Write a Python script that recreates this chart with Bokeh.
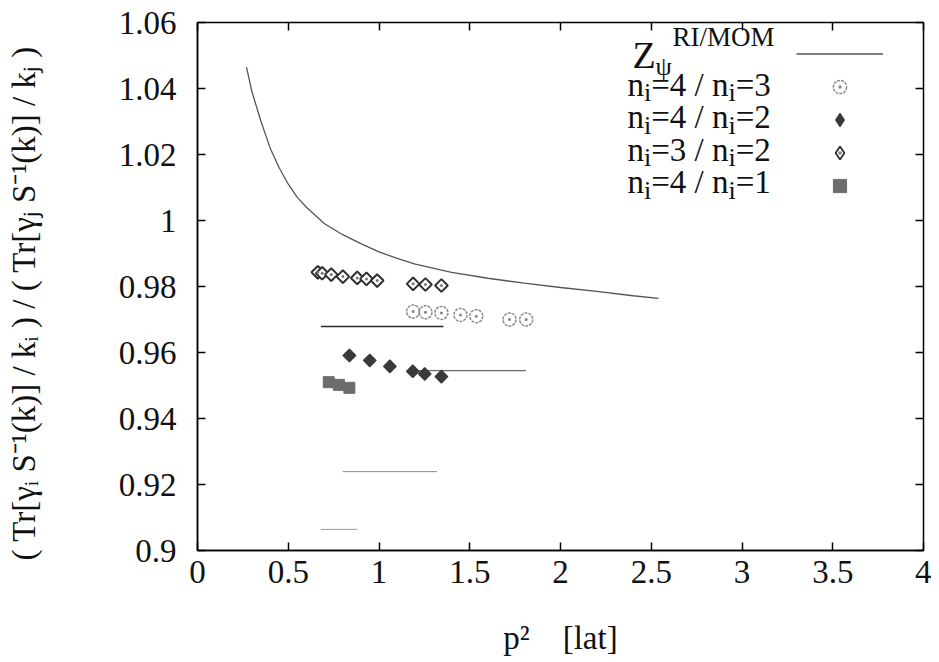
import math
from bokeh.plotting import figure
from bokeh.models import (Range1d, FixedTicker, CustomJSTickFormatter, LinearAxis,
                          Label, Legend, LegendItem)
from bokeh.embed import file_html
from bokeh.resources import INLINE

# ---------------- data ----------------
x_ticks = [0, 0.5, 1, 1.5, 2, 2.5, 3, 3.5, 4]
y_ticks = [0.9, 0.92, 0.94, 0.96, 0.98, 1.0, 1.02, 1.04, 1.06]

# Z_psi^{RI/MOM} curve
curve_x = [0.27, 0.30, 0.35, 0.40, 0.45, 0.50, 0.55, 0.60, 0.70, 0.80, 0.90, 1.00,
           1.10, 1.20, 1.40, 1.60, 1.80, 2.00, 2.20, 2.40, 2.54]
curve_y = [1.0465, 1.039, 1.030, 1.022, 1.016, 1.011, 1.007, 1.004, 0.999, 0.9957,
           0.9930, 0.9905, 0.9885, 0.9868, 0.9843, 0.9825, 0.9810, 0.9797, 0.9785,
           0.9772, 0.9764]

# n_i=4 / n_i=3  (open circles)
r43_x = [1.188, 1.256, 1.344, 1.449, 1.536, 1.719, 1.811]
r43_y = [0.9724, 0.9722, 0.9720, 0.9714, 0.9710, 0.9700, 0.9700]
# n_i=4 / n_i=2  (filled diamonds)
r42_x = [0.837, 0.949, 1.060, 1.186, 1.252, 1.344]
r42_y = [0.9591, 0.9576, 0.9558, 0.9543, 0.9535, 0.9527]
# n_i=3 / n_i=2  (open diamonds)
r32_x = [0.663, 0.687, 0.737, 0.801, 0.880, 0.931, 0.990, 1.188, 1.256, 1.344]
r32_y = [0.9843, 0.9840, 0.9836, 0.9830, 0.9826, 0.9823, 0.9818, 0.9808, 0.9806, 0.9803]
# n_i=4 / n_i=1  (filled squares)
r41_x = [0.723, 0.779, 0.837]
r41_y = [0.9510, 0.9502, 0.9493]

# horizontal fit lines
hl_x0 = [0.68, 1.20, 0.80, 0.68]
hl_x1 = [1.355, 1.81, 1.32, 0.88]
hl_y = [0.9679, 0.9545, 0.9239, 0.9064]

# ---------------- styles ----------------
SERIF = "Liberation Serif"
hl_colors = ["#2a2a2a", "#6a6a6a", "#8a8a8a", "#9a9a9a"]
hl_widths = [1.6, 1.1, 1.0, 1.0]

p = figure(frame_width=726, frame_height=528,
           x_range=Range1d(0, 4), y_range=Range1d(0.9, 1.06),
           output_backend="svg", toolbar_location=None,
           min_border_left=197, min_border_right=8,
           min_border_top=22, min_border_bottom=110)
p.grid.visible = False
p.outline_line_color = "black"
p.outline_line_width = 1.5
p.outline_line_alpha = 1.0
p.background_fill_color = "white"
p.border_fill_color = "white"

fmt = CustomJSTickFormatter(code="return String(parseFloat(tick.toFixed(3)));")
p.xaxis.ticker = FixedTicker(ticks=x_ticks)
p.yaxis.ticker = FixedTicker(ticks=y_ticks)
p.xaxis.formatter = fmt
p.yaxis.formatter = fmt
for ax in (p.xaxis[0], p.yaxis[0]):
    ax.major_tick_in = 8
    ax.major_tick_out = 0
    ax.major_tick_line_color = "black"
    ax.major_tick_line_width = 1.5
    ax.minor_tick_line_color = None
    ax.axis_line_color = "black"
    ax.axis_line_width = 1.5
    ax.major_label_text_font = SERIF
    ax.major_label_text_font_size = "33px"
    ax.major_label_text_color = "#111111"
    ax.axis_label_text_font = SERIF
    ax.axis_label_text_font_style = "normal"
    ax.axis_label_text_font_size = "33px"
    ax.axis_label_text_color = "#111111"

NB = "\u00a0"
p.yaxis.major_label_standoff = 21
p.xaxis.major_label_standoff = 10
p.xaxis.axis_label = "p\u00b2" + NB * 4 + "[lat]"
p.xaxis.axis_label_standoff = 34
p.yaxis.axis_label = ("( Tr[\u03b3\u1d62 S\u207b\u00b9(k)] / k\u1d62 ) / "
                      "( Tr[\u03b3\u2c7c S\u207b\u00b9(k)] / k\u2c7c )" + NB * 4)
p.yaxis.axis_label_standoff = 74

# mirror ticks (right / top), no labels
blank = CustomJSTickFormatter(code="return '';")
right_ax = LinearAxis(ticker=FixedTicker(ticks=y_ticks), formatter=blank,
                      major_tick_in=8, major_tick_out=0, major_tick_line_width=1.5,
                      minor_tick_line_color=None, axis_line_color=None,
                      major_label_text_font_size="1px", major_label_standoff=0)
top_ax = LinearAxis(ticker=FixedTicker(ticks=x_ticks), formatter=blank,
                    major_tick_in=8, major_tick_out=0, major_tick_line_width=1.5,
                    minor_tick_line_color=None, axis_line_color=None,
                    major_label_text_font_size="1px", major_label_standoff=0)
p.add_layout(right_ax, "right")
p.add_layout(top_ax, "above")

# ---------------- glyphs ----------------
curve_r = p.line(curve_x, curve_y, line_color="#555555", line_width=1.3)
p.segment(x0=hl_x0, y0=hl_y, x1=hl_x1, y1=hl_y, line_color=hl_colors, line_width=hl_widths)

c43 = p.scatter(r43_x, r43_y, marker="circle", size=13, fill_color=None,
                line_color="#8c8c8c", line_width=1.5, line_dash="3 1")
c43d = p.scatter(r43_x, r43_y, marker="dot", size=12, line_color="#888888", fill_color="#888888")

# diamond-shaped glyphs used for the legend (legend markers are never rotated);
# in the plot they sit hidden underneath the rotated squares drawn afterwards
d42_leg = p.scatter(r42_x, r42_y, marker="diamond", size=11,
                    fill_color="#3a3a3a", line_color="#3a3a3a", line_width=1.2)
d32_leg = p.scatter(r32_x, r32_y, marker="diamond", size=10,
                    fill_color=None, line_color="#303030", line_width=1.8)

d32 = p.scatter(r32_x, r32_y, marker="square", angle=math.pi / 4, size=9,
                fill_color="white", line_color="#303030", line_width=2)
d32d = p.scatter(r32_x, r32_y, marker="dot", size=12, line_color="#777777", fill_color="#777777")
d42 = p.scatter(r42_x, r42_y, marker="square", angle=math.pi / 4, size=9,
                fill_color="#3a3a3a", line_color="#3a3a3a", line_width=1.2)
s41 = p.scatter(r41_x, r41_y, marker="square", size=11,
                fill_color="#6c6c6c", line_color="#6c6c6c", line_width=1)

legend = Legend(items=[LegendItem(label=" ", renderers=[curve_r]),
                       LegendItem(label=" ", renderers=[c43, c43d]),
                       LegendItem(label=" ", renderers=[d42_leg]),
                       LegendItem(label=" ", renderers=[d32_leg, d32d]),
                       LegendItem(label=" ", renderers=[s41])],
                location=(599, 348), glyph_width=87, glyph_height=33, spacing=0,
                padding=0, margin=0, border_line_color=None, background_fill_alpha=0,
                label_text_font_size="1px", label_standoff=0, label_width=0, label_height=0)
p.add_layout(legend)

# ---------------- legend texts (manual, with sub/superscripts) ----------------
W = {"n": 0.5, "i": 0.278, "=": 0.564, " ": 0.25, "/": 0.278, "1": 0.5, "2": 0.5,
     "3": 0.5, "4": 0.5}


def width(s, size):
    return sum(W.get(ch, 0.5) for ch in s) * size


def add_text(x, y, text, size):
    p.add_layout(Label(x=x, y=y, x_units="screen", y_units="screen", text=text,
                       text_font=SERIF, text_font_size=f"{size}px", text_color="#111111",
                       text_baseline="alphabetic", text_align="left"))


# Z_psi^{RI/MOM}
add_text(435, 496, "Z", 38)
add_text(458, 484, "\u03c8", 26)
add_text(475, 514, "RI/MOM", 27)

rows = [("4", "3"), ("4", "2"), ("3", "2"), ("4", "1")]
baselines = [466, 433.5, 401, 368.5]
F, FS = 33, 26
for (a, b), yb in zip(rows, baselines):
    x = 430
    add_text(x, yb, "n", F)
    x += width("n", F)
    add_text(x, yb - 8, "i", FS)
    x += width("i", FS)
    mid = "=" + a + " / n"
    add_text(x, yb, mid, F)
    x += width(mid, F)
    add_text(x, yb - 8, "i", FS)
    x += width("i", FS)
    add_text(x, yb, "=" + b, F)

open("out.html", "w").write(file_html(p, INLINE))
